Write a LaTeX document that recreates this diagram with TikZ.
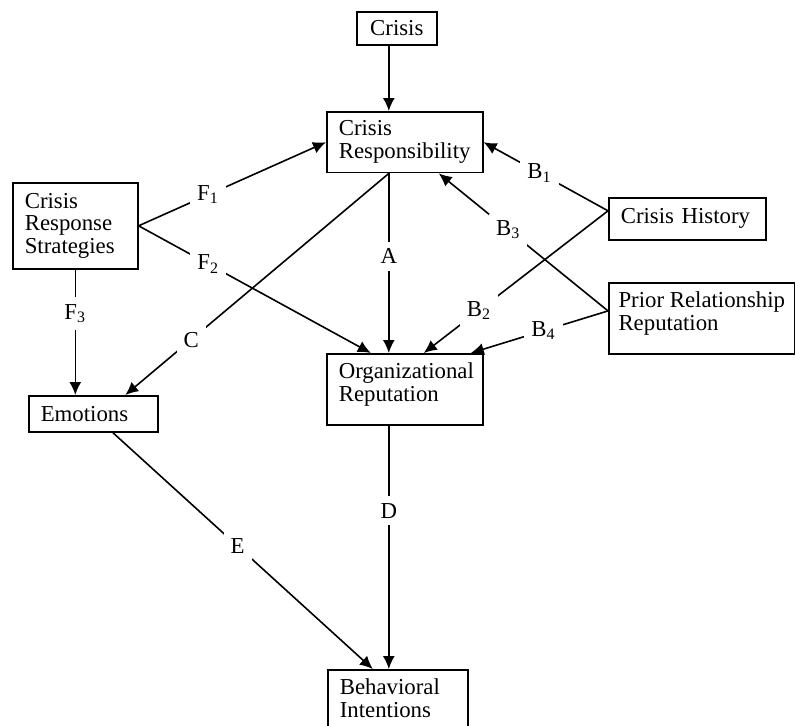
\documentclass[tikz,border=0pt]{standalone}
\usepackage{fontspec}
\setmainfont{Liberation Serif}
\usetikzlibrary{arrows.meta}

\begin{document}
\begin{tikzpicture}[x=0.5pt,y=-0.5pt,
    box/.style={draw,line width=0.8pt,anchor=north west,align=left,inner xsep=6pt,inner ysep=4.5pt,font=\fontsize{11.4}{11.4}\selectfont},
    link/.style={-{Latex[length=6.5pt,width=6pt]},line width=0.8pt},
    lab/.style={fill=white,inner sep=3.5pt,font=\fontsize{11.4}{11.4}\selectfont}]
    \useasboundingbox (0,0) rectangle (795,725);
    % boxes
    \node[box,align=center,minimum width=40pt,minimum height=16.5pt](crisis) at (356,11){Crisis};
    \node[box,text width=66pt,minimum height=28.5pt](resp) at (326,111){Crisis\\Responsibility};
    \node[box,text width=50.5pt,minimum height=43pt](crs) at (12,182){Crisis\\Response\\Strategies};
    \node[box,text width=52.5pt,minimum height=18pt](emo) at (28,395){Emotions};
    \node[box,text width=66pt,text depth=18.7pt](org) at (326,353){Organizational\\Reputation};
    \node[box,text width=66.5pt,minimum height=21pt](hist) at (608,197){Crisis History};
    \node[box,minimum width=93pt,inner xsep=4pt,text depth=7.3pt](prior) at (608,282){Prior Relationship\\Reputation};
    \node[box,text width=58pt,minimum height=27.5pt](beh) at (327,669){Behavioral\\Intentions};
    % paths
    \draw[link] ([xshift=-4pt]crisis.south) -- ([xshift=-8pt]resp.north);
    \draw[link] (crs.east) -- node[lab,pos=0.37](f1){F\textsubscript{1}} (resp.west);
    \draw[link] (crs.east) -- node[lab,pos=0.30](f2){F\textsubscript{2}} ([xshift=-17pt]org.north);
    \draw[link] (crs.south) -- node[lab,pos=0.35](f3){F\textsubscript{3}} (crs.south |- emo.north);
    \draw[link] ([xshift=-8pt]resp.south) -- node[lab,pos=0.75](c){C} ([xshift=16pt]emo.north);
    \draw[link] ([xshift=-8pt]resp.south) -- node[lab,pos=0.46](a){A} ([xshift=-8pt]org.north);
    \draw[link] ([yshift=4pt]hist.west) -- node[lab,pos=0.55](b1){B\textsubscript{1}} (resp.east);
    \draw[link] ([yshift=4pt]hist.west) -- node[lab,pos=0.70](b2){B\textsubscript{2}} ([xshift=9.5pt]org.north);
    \draw[link] ([yshift=3.75pt]prior.west) -- node[lab,pos=0.59](b3){B\textsubscript{3}} ([xshift=17pt]resp.south);
    \draw[link] ([yshift=3.75pt]prior.west) -- node[lab,pos=0.47](b4){B\textsubscript{4}} ([xshift=33pt]org.north);
    \draw[link] ([xshift=-8pt]org.south) -- node[lab,pos=0.35](d){D} ([xshift=-4.5pt]beh.north);
    \draw[link] ([xshift=9.75pt]emo.south) -- node[lab,pos=0.48](e){E} ([xshift=-12.5pt]beh.north);
\end{tikzpicture}
\end{document}
